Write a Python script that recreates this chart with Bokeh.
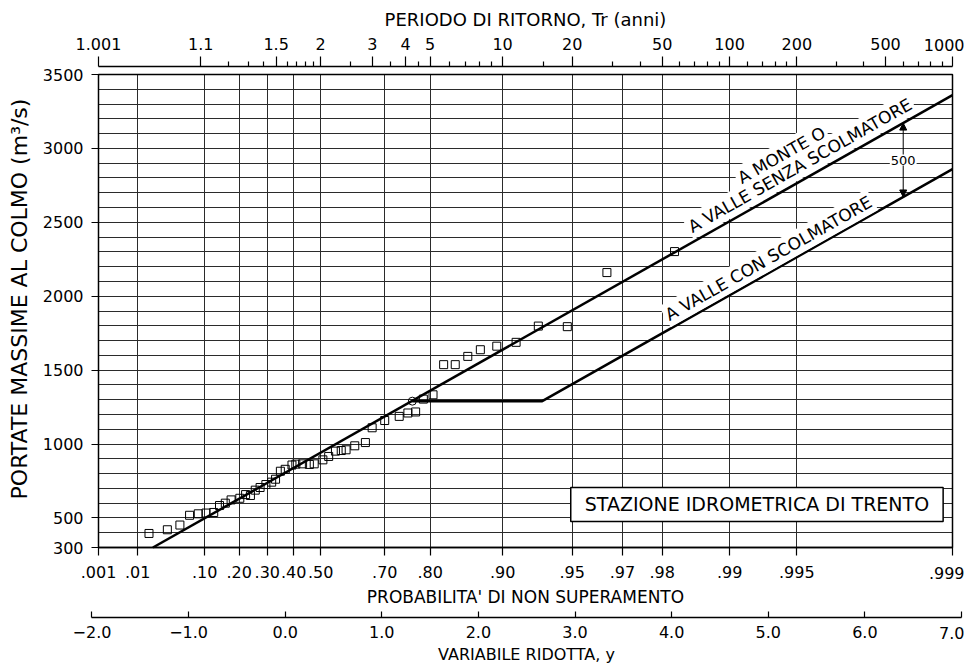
import math
from bokeh.plotting import figure
from bokeh.models import LinearAxis, FixedTicker, Grid, Label, Arrow, NormalHead, Range1d
from bokeh.embed import file_html
from bokeh.resources import INLINE

# ---------------- data ----------------
# return-period (top) axis
TR_MAJOR = [1.001, 1.1, 1.5, 2, 3, 4, 5, 10, 20, 50, 100, 200, 500, 1000]
TR_MAJOR_LABELS = ["1.001", "1.1", "1.5", "2", "3", "4", "5", "10", "20", "50",
                   "100", "200", "500", "1000"]
TR_MINOR = [1.2, 1.3, 1.4, 1.6, 1.7, 1.8, 1.9, 2.5, 3.5, 4.5, 6, 7, 8, 9, 15, 30, 40,
            60, 70, 80, 90, 120, 140, 160, 180, 300, 400, 600, 700, 800, 900]
# probability of non exceedance (bottom) axis
P_TICKS = [0.001, 0.01, 0.10, 0.20, 0.30, 0.40, 0.50, 0.70, 0.80, 0.90, 0.95, 0.97,
           0.98, 0.99, 0.995, 0.999]
P_LABELS = [".001", ".01", ".10", ".20", ".30", ".40", ".50", ".70", ".80", ".90",
            ".95", ".97", ".98", ".99", ".995", ".999"]
# reduced variable axis
YR_TICKS = [-2, -1, 0, 1, 2, 3, 4, 5, 6, 7]
YR_LABELS = ["\u22122.0", "\u22121.0", "0.0", "1.0", "2.0", "3.0", "4.0", "5.0", "6.0", "7.0"]
# discharge axis
Q_TICKS = [300, 500, 1000, 1500, 2000, 2500, 3000, 3500]
Q_LABELS = ["300", "500", "1000", "1500", "2000", "2500", "3000", "3500"]
Q_GRID_STEP = 100

# observed annual maxima (reduced variable y, discharge m3/s)
OBS_Y = [-1.41, -1.22, -1.09, -0.99, -0.90, -0.82, -0.74, -0.68, -0.62, -0.56,
         -0.47, -0.41, -0.36, -0.31, -0.26, -0.20, -0.14, -0.10, -0.05, 0.00,
         0.07, 0.11, 0.18, 0.25, 0.30, 0.39, 0.45, 0.52, 0.58, 0.63,
         0.72, 0.83, 0.90, 1.03, 1.18, 1.27, 1.35, 1.43, 1.53, 1.64,
         1.76, 1.89, 2.02, 2.19, 2.39, 2.62, 2.92, 3.33, 4.03]
OBS_Q = [395, 420, 452, 518, 528, 533, 537, 584, 600, 622,
         633, 658, 652, 688, 706, 726, 742, 762, 816, 829,
         858, 864, 866, 862, 866, 893, 916, 952, 956, 961,
         988, 1010, 1110, 1159, 1187, 1210, 1217, 1304, 1333, 1537,
         1537, 1593, 1638, 1662, 1688, 1798, 1794, 2160, 2302]

# fitted Gumbel lines
SENZA_Y = [-1.369, 6.907]          # a monte o a valle senza scolmatore
SENZA_Q = [300, 3360]
CON_Y = [1.316, 2.66, 6.907]       # a valle con scolmatore
CON_Q = [1290, 1290, 2860]
BREAK_Y = [1.316]
BREAK_Q = [1290]
DIFF_LABEL = "500"

# ---------------- geometry ----------------
def gumbel(P):
    return -math.log(-math.log(P))

FONT = "DejaVu Sans"
W, H = 968, 664
BOX_L, BOX_R = 98, 952   # plotting box edges, px
BOX_T, BOX_B = 74, 547
TOP_AXIS_PY = 66
RED_AXIS_PY = 617

BX0, BX1 = gumbel(P_TICKS[0]), gumbel(P_TICKS[-1])
BQ0, BQ1 = Q_TICKS[0], Q_TICKS[-1]
SX = (BOX_R - BOX_L) / (BX1 - BX0)
SY = (BOX_B - BOX_T) / (BQ1 - BQ0)
X_START = BX0 - BOX_L / SX
X_END = X_START + W / SX
Y_START = BQ0 - (H - BOX_B) / SY
Y_END = BQ0 + BOX_B / SY

def px2x(px):
    return X_START + px / SX

def py2q(py):
    return BQ0 + (BOX_B - py) / SY

# the frame covers the whole canvas; every axis is placed at a fixed location
p = figure(width=W, height=H, title=None,
           x_range=Range1d(X_START, X_END), y_range=Range1d(Y_START, Y_END),
           output_backend="svg", toolbar_location=None,
           x_axis_location=None, y_axis_location=None,
           min_border=0, min_border_left=0, min_border_right=0,
           min_border_top=0, min_border_bottom=0)
p.outline_line_color = None
p.background_fill_color = "white"
p.border_fill_color = "white"

# ---------------- grid ----------------
p_pos = [gumbel(v) for v in P_TICKS]
q_grid = list(range(BQ0, BQ1 + 1, Q_GRID_STEP))
xg = p.xgrid[0]
yg = p.ygrid[0]
GRID_COLOR = "#2b2b2b"
if "cross_bounds" in Grid.properties():
    xg.ticker = FixedTicker(ticks=p_pos)
    xg.bounds = (BX0, BX1)
    xg.cross_bounds = (BQ0, BQ1)
    yg.ticker = FixedTicker(ticks=q_grid)
    yg.bounds = (BQ0, BQ1)
    yg.cross_bounds = (BX0, BX1)
    for g in (xg, yg):
        g.grid_line_color = GRID_COLOR
        g.grid_line_width = 1
else:
    xg.visible = False
    yg.visible = False
    p.segment(x0=p_pos, x1=p_pos, y0=[BQ0] * len(p_pos), y1=[BQ1] * len(p_pos),
              line_color=GRID_COLOR, line_width=1)
    p.segment(x0=[BX0] * len(q_grid), x1=[BX1] * len(q_grid), y0=q_grid, y1=q_grid,
              line_color=GRID_COLOR, line_width=1)

# plotting box
p.quad(left=[BX0], right=[BX1], bottom=[BQ0], top=[BQ1], fill_color=None,
       line_color="black", line_width=1.5)

# ---------------- axes ----------------
def style(ax, lab_size="16px", title_size="17px"):
    ax.axis_line_color = "black"
    ax.axis_line_width = 1.3
    ax.major_tick_line_color = "black"
    ax.major_tick_line_width = 1.2
    ax.minor_tick_line_color = "black"
    ax.minor_tick_line_width = 1.2
    ax.major_label_text_font = FONT
    ax.major_label_text_font_size = lab_size
    ax.major_label_text_color = "black"
    ax.axis_label_text_font = FONT
    ax.axis_label_text_font_size = title_size
    ax.axis_label_text_font_style = "normal"
    ax.axis_label_text_color = "black"

# discharge axis (title centred a little above the middle, as in the drawing)
yaxis = LinearAxis(fixed_location=BX0, bounds=(BQ0, BQ1 + 160),
                   ticker=FixedTicker(ticks=Q_TICKS),
                   major_label_overrides=dict(zip(Q_TICKS, Q_LABELS)),
                   axis_label="PORTATE MASSIME AL COLMO (m\u00b3/s)")
style(yaxis, title_size="22px")
yaxis.axis_line_color = None
yaxis.major_tick_out = 7
yaxis.major_tick_in = 0
yaxis.major_label_standoff = 8
yaxis.axis_label_standoff = 8
p.add_layout(yaxis, "left")

# return period axis
tr_pos = [gumbel(1 - 1 / t) for t in TR_MAJOR]
tr_minor = [gumbel(1 - 1 / t) for t in TR_MINOR]
tr_over = dict(zip(tr_pos, TR_MAJOR_LABELS))
tr_over[tr_pos[-1]] = ""          # last label is drawn right-aligned (see below)
taxis = LinearAxis(fixed_location=py2q(TOP_AXIS_PY), bounds=(BX0, BX1),
                   ticker=FixedTicker(ticks=tr_pos, minor_ticks=tr_minor),
                   major_label_overrides=tr_over,
                   axis_label="PERIODO DI RITORNO, Tr (anni)")
style(taxis, title_size="18px")
taxis.major_tick_out = 10
taxis.major_tick_in = 0
taxis.minor_tick_out = 5
taxis.minor_tick_in = 0
taxis.major_label_standoff = 7
taxis.axis_label_standoff = 5
p.add_layout(taxis, "above")

# probability axis
p_over = dict(zip(p_pos, P_LABELS))
p_over[p_pos[-1]] = ""
paxis = LinearAxis(fixed_location=BQ0, bounds=(BX0, BX1), ticker=FixedTicker(ticks=p_pos),
                   major_label_overrides=p_over,
                   axis_label="PROBABILITA' DI NON SUPERAMENTO")
style(paxis)
paxis.major_tick_out = 8
paxis.major_tick_in = 0
paxis.major_label_standoff = 10
paxis.axis_label_standoff = 6
p.add_layout(paxis, "below")

# reduced variable axis
yr_over = dict(zip(YR_TICKS, YR_LABELS))
yr_over[YR_TICKS[-1]] = ""
raxis = LinearAxis(fixed_location=py2q(RED_AXIS_PY), bounds=(YR_TICKS[0], YR_TICKS[-1]),
                   ticker=FixedTicker(ticks=YR_TICKS),
                   major_label_overrides=yr_over,
                   axis_label="VARIABILE RIDOTTA, y")
style(raxis, lab_size="16px", title_size="16px")
raxis.major_tick_out = 0
raxis.major_tick_in = 6
raxis.major_label_standoff = 8
raxis.axis_label_standoff = 4
p.add_layout(raxis, "below")

# last tick labels, pulled inside the sheet edge as in the original drawing
def edge_label(text, py, size):
    p.add_layout(Label(x=px2x(964), y=py2q(py), text=text, text_align="right",
                       text_baseline="middle", text_font=FONT, text_font_size=size,
                       text_color="black"))

edge_label(TR_MAJOR_LABELS[-1], 44, "16px")
edge_label(P_LABELS[-1], 572, "16px")
edge_label(YR_LABELS[-1], 632, "16px")

# ---------------- data marks ----------------
p.line(SENZA_Y, SENZA_Q, line_color="black", line_width=2.5)
p.line(CON_Y, CON_Q, line_color="black", line_width=2.5)
p.scatter(OBS_Y, OBS_Q, marker="square", size=8, fill_color=None,
          line_color="black", line_width=1)
p.scatter(BREAK_Y, BREAK_Q, marker="circle", size=8, fill_color=None,
          line_color="black", line_width=1)

# ---------------- annotations ----------------
slope = (SENZA_Q[1] - SENZA_Q[0]) / (SENZA_Y[1] - SENZA_Y[0])
u1 = SENZA_Q[0] - slope * SENZA_Y[0]
u2 = CON_Q[-1] - slope * CON_Y[-1]
theta = math.atan(slope * SY / SX)

def along(t, u, d):
    x = t - math.sin(theta) * d / SX
    q = u + slope * t + math.cos(theta) * d / SY
    return x, q

def line_label(text, t, u, d):
    x, q = along(t, u, d)
    p.add_layout(Label(x=x, y=q, text=text, angle=theta, text_align="center",
                       text_baseline="middle", text_font=FONT, text_font_size="17px",
                       text_color="black", background_fill_color="white", padding=2))

line_label("A MONTE O", 5.30, u1, 32)
line_label("A VALLE SENZA SCOLMATORE", 5.40, u1, 14)
line_label("A VALLE CON SCOLMATORE", 5.07, u2, 13)

ta = 6.397
p.add_layout(Arrow(x_start=ta, y_start=u2 + slope * ta, x_end=ta, y_end=u1 + slope * ta,
                   start=NormalHead(size=7, fill_color="black", line_color="black", line_width=1),
                   end=NormalHead(size=7, fill_color="black", line_color="black", line_width=1),
                   line_color="black", line_width=1))
p.add_layout(Label(x=ta, y=(u1 + u2) / 2 + slope * ta, text=DIFF_LABEL,
                   text_align="center", text_baseline="middle", text_font=FONT,
                   text_font_size="13px", text_color="black",
                   background_fill_color="white", padding=1))

p.add_layout(Label(x=4.883, y=591, text="STAZIONE IDROMETRICA DI TRENTO",
                   text_align="center", text_baseline="middle", text_font=FONT,
                   text_font_size="19px", text_color="black",
                   background_fill_color="white", border_line_color="black",
                   border_line_width=1.5,
                   padding=dict(left=14, right=14, top=6, bottom=6)))

open("out.html", "w").write(file_html(p, INLINE))
